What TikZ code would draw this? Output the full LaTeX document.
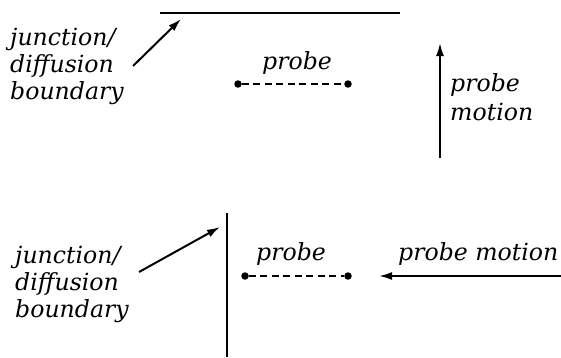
\documentclass[tikz,border=0pt]{standalone}
\usepackage{fontspec}
\setmainfont{DejaVu Serif}
\usetikzlibrary{arrows.meta}
\begin{document}
\begin{tikzpicture}[x=1pt,y=-1pt,
 lbl/.style={font=\fontsize{23.6}{27}\selectfont\itshape, inner sep=0pt, align=left},
 lblr/.style={font=\fontsize{23.6}{29}\selectfont\itshape, inner sep=0pt, align=left},
 wire/.style={line width=2.2pt},
 arr/.style={line width=2pt, -{Latex[length=13pt,width=8pt]}},
 probeline/.style={line width=2.2pt, dash pattern=on 7pt off 4.5pt},
 tipdot/.style={circle, fill, inner sep=0pt, minimum size=7.5pt}]
\useasboundingbox (0,0) rectangle (561,357);
% top panel
\coordinate (b1a) at (160,13);
\coordinate (b1b) at (400,13);
\draw[wire] (b1a) -- (b1b);
\node[lbl, anchor=base west] (j1) at (10,99) {junction/\\diffusion\\boundary};
\coordinate (a1s) at (133,66);
\coordinate (a1e) at (181,19);
\draw[arr] (a1s) -- (a1e);
\node[tipdot] (p1l) at (238,84) {};
\node[tipdot] (p1r) at (348,84) {};
\draw[probeline] (p1l) -- (p1r);
\node[lbl, anchor=base] (p1t) at (297,69) {probe};
\coordinate (m1s) at (440,158);
\coordinate (m1e) at (440,43);
\draw[arr] (m1s) -- (m1e);
\node[lblr, anchor=base west] (m1t) at (450,120) {probe\\motion};
% bottom panel
\coordinate (b2a) at (227,213);
\coordinate (b2b) at (227,357);
\draw[wire] (b2a) -- (b2b);
\node[lbl, anchor=base west] (j2) at (15,317) {junction/\\diffusion\\boundary};
\coordinate (a2s) at (139,272);
\coordinate (a2e) at (220,227);
\draw[arr] (a2s) -- (a2e);
\node[tipdot] (p2l) at (245,276) {};
\node[tipdot] (p2r) at (348,276) {};
\draw[probeline] (p2l) -- (p2r);
\node[lbl, anchor=base] (p2t) at (291,260) {probe};
\node[lbl, anchor=base west] (m2t) at (398,260) {probe motion};
\coordinate (m2s) at (561,276);
\coordinate (m2e) at (379,276);
\draw[arr] (m2s) -- (m2e);
\end{tikzpicture}
\end{document}
